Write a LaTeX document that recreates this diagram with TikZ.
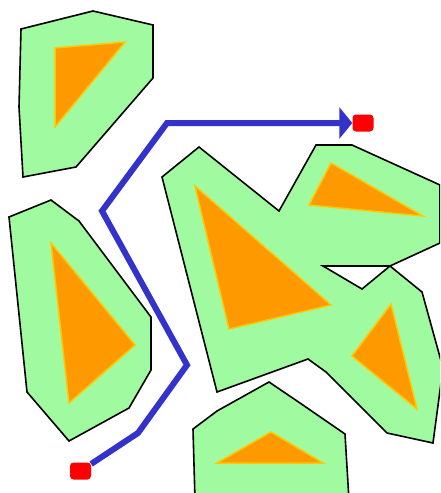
\documentclass[tikz,border=0pt]{standalone}
\usepackage{tikz}
\usetikzlibrary{arrows.meta}
\definecolor{freegreen}{RGB}{160,251,160}
\definecolor{obstorange}{RGB}{255,153,0}
\definecolor{obstedge}{RGB}{255,200,0}
\definecolor{routeblue}{RGB}{51,51,204}
\tikzstyle{cspace} = [draw=black, line width=1.6pt, line join=miter, fill=freegreen]
\tikzstyle{obstacle} = [draw=obstedge, line width=1.5pt, fill=obstorange]
\tikzstyle{endpoint} = [rectangle, rounded corners=3.5pt, fill=red, minimum width=21pt, minimum height=17pt, inner sep=0pt]
\tikzstyle{route} = [line width=6pt, draw=routeblue, -{Triangle[length=13pt, width=31pt]}]

\begin{document}
\begin{tikzpicture}[x=1pt, y=-1pt]
    \useasboundingbox (0,0) rectangle (440,493);
    \clip (0,0) rectangle (440,493);

    % free regions
    \draw [cspace] (21,29) -- (93,11) -- (153,25) -- (153,78) -- (76,167) -- (23,177) -- (19,107) -- cycle;
    \draw [cspace] (9,217) -- (51,200) -- (79,221) -- (151,317) -- (151,370) -- (129,408) -- (69,441) -- (27,392) -- cycle;
    \draw [cspace] (162,177) -- (199,147) -- (279,211) -- (316,145) -- (352,145) -- (440,185) -- (440,243)
        -- (390,266) -- (323,266) -- (362,289) -- (390,266) -- (422,292) -- (443,368) -- (433,443)
        -- (387,433) -- (326,372) -- (308,359) -- (217,392) -- cycle;
    \draw [cspace] (193,429) -- (217,411) -- (269,382) -- (300,403) -- (345,434) -- (349,500) -- (195,500) -- cycle;

    % obstacles
    \draw [obstacle] (55,48) -- (125,42) -- (55,127) -- cycle;
    \draw [obstacle] (51,243) -- (135,345) -- (69,403) -- cycle;
    \draw [obstacle] (195,186) -- (331,305) -- (229,329) -- cycle;
    \draw [obstacle] (331,163) -- (423,216) -- (309,205) -- cycle;
    \draw [obstacle] (391,304) -- (417,409) -- (352,356) -- cycle;
    \draw [obstacle] (271,432) -- (323,463) -- (217,463) -- cycle;

    % route
    \node (start) [endpoint] at (80.5,471) {};
    \node (goal) [endpoint] at (363,123) {};
    \coordinate (wp1) at (138,433);
    \coordinate (wp2) at (187,365);
    \coordinate (wp3) at (102,211);
    \coordinate (wp4) at (167,123);

    \draw [route] (start) -- (wp1) -- (wp2) -- (wp3) -- (wp4) -- (goal);
\end{tikzpicture}
\end{document}
